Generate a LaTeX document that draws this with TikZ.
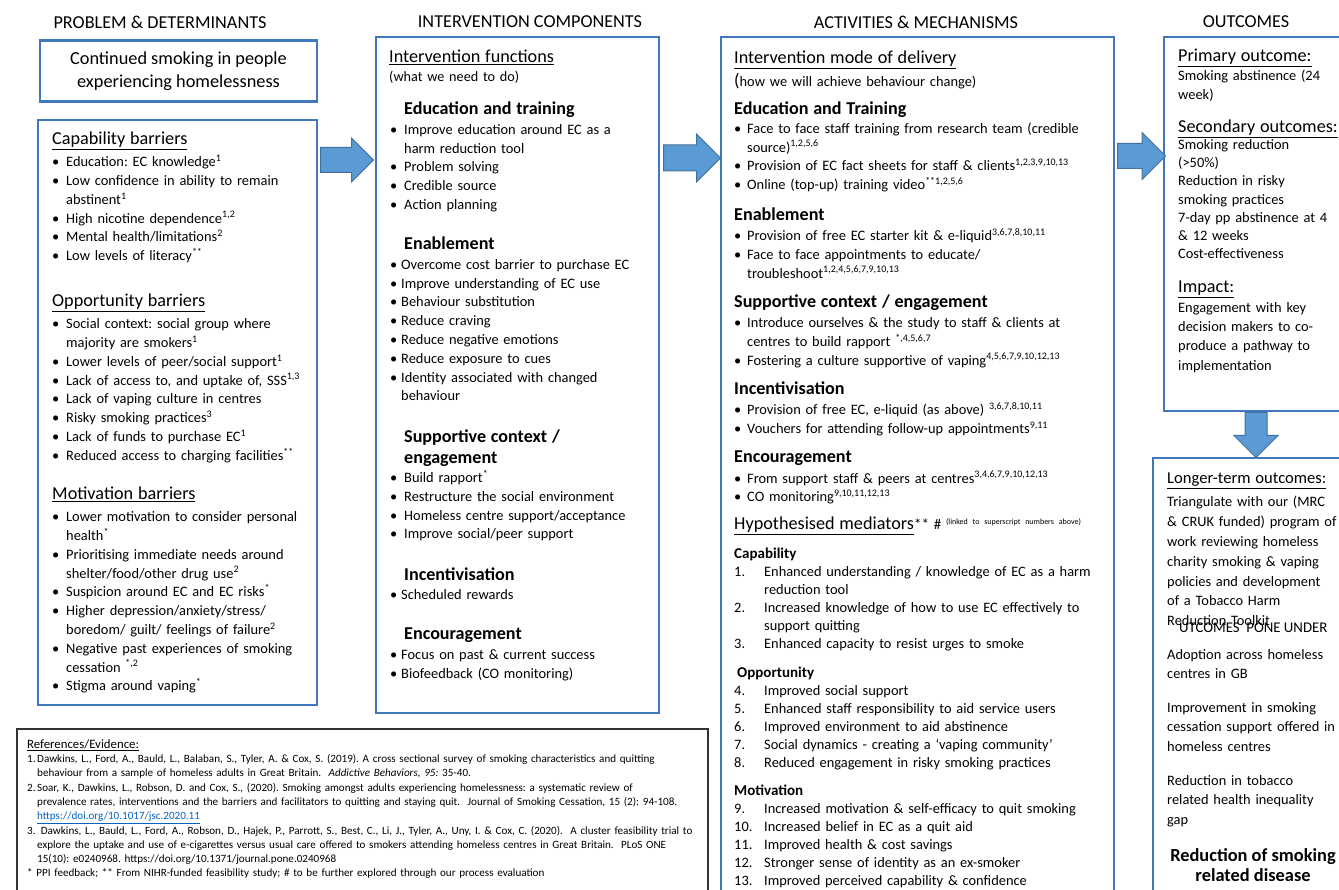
\documentclass[tikz,border=0pt]{standalone}
\usepackage{fontspec}
\setmainfont{Carlito}
\usetikzlibrary{shapes.arrows}

\definecolor{boxblue}{RGB}{65,119,190}
\definecolor{arrfill}{RGB}{91,155,213}
\definecolor{arrline}{RGB}{65,113,156}
\definecolor{linkblue}{RGB}{5,99,193}

\newcommand\fbody{\fontsize{14.4}{18.8}\selectfont}
\newcommand\fhead{\fontsize{18.2}{21}\selectfont}
\newcommand\fbold{\fontsize{18.1}{21.5}\selectfont\bfseries}
\newcommand\fcol{\fontsize{18.2}{20}\selectfont}
\newcommand\fref{\fontsize{11.1}{14.3}\selectfont}
\newcommand\fmed{\fontsize{14.4}{18.1}\selectfont}
\newcommand\sechd[1]{{\fhead\noindent\strut\underline{#1}\par}}
\newcommand\boldhd[1]{{\fbold\noindent\strut #1\par}}
\newcommand\bitem[2][14pt]{\par\hangindent=#1\hangafter=1\noindent\makebox[#1][l]{\textbullet}#2}
\newcommand\numitem[2]{\par\hangindent=30pt\hangafter=1\noindent\makebox[30pt][l]{#1.}#2}
\newcommand\refitem[2]{\par\hangindent=10pt\hangafter=1\noindent\makebox[10pt][l]{#1}#2}
\newcommand\sups[1]{\textsuperscript{#1}}
\setlength\lineskiplimit{-20pt}
\frenchspacing

\begin{document}
\begin{tikzpicture}[x=1pt, y=-1pt,
    bbox/.style={draw=boxblue, line width=2.5pt, inner sep=0pt},
    txt/.style={anchor=north west, inner sep=0pt, align=left, font=\fbody},
    barrow/.style={single arrow, draw=arrline, fill=arrfill, line width=1pt, inner sep=0pt,
      text depth=0pt, anchor=tail, single arrow tip angle=90, single arrow head extend=11pt},
    colhead/.style={font=\fcol, inner sep=0pt}]
    \path[use as bounding box] (0,0) rectangle (1339,890);
    \clip (0,0) rectangle (1339,890);

    % Column headings
    \node[colhead] (hprob) at (160,22) {PROBLEM \& DETERMINANTS};
    \node[colhead] (hcomp) at (530,22) {INTERVENTION COMPONENTS};
    \node[colhead] (hact) at (916,22) {ACTIVITIES \& MECHANISMS};
    \node[colhead] (hout) at (1246,22) {OUTCOMES};

    % Boxes
    \node[bbox, minimum width=277pt, minimum height=61pt, align=center,
      font=\fontsize{18.3}{23}\selectfont] (problem) at (178.5,71)
      {Continued smoking in people\\experiencing homelessness};
    \node[bbox, minimum width=279pt, minimum height=585pt] (barriers) at (177.5,412.5) {};
    \node[bbox, minimum width=283pt, minimum height=676pt] (components) at (517.5,375) {};
    \node[bbox, minimum width=393pt, minimum height=863pt] (activities) at (917.5,468.5) {};
    \node[bbox, minimum width=181pt, minimum height=374pt] (outcomes) at (1254.5,224) {};
    \node[bbox, minimum width=192pt, minimum height=442pt] (longterm) at (1249,679) {};
    \node[draw=black!80, line width=1.2pt, inner sep=0pt, minimum width=691pt,
      minimum height=171pt] (refs) at (362.5,814.5) {};

    % Block arrows
    \node[barrow, text height=24pt, single arrow head extend=9.5pt, minimum height=53pt] (arrA) at (320,160) {};
    \node[barrow, text height=25pt, minimum height=57pt] (arrB) at (663,158) {};
    \node[barrow, text height=24pt, minimum height=48pt] (arrC) at (1117,156) {};
    \node[barrow, text width=21pt, shape border rotate=270, minimum height=45pt] (arrD) at (1256,412) {};

    % Problem & determinants
    \node[txt, text width=272pt] (capab) at (52,130) {\sechd{Capability barriers}\vspace{3pt}
      \bitem{Education: EC knowledge\sups{1}}
      \bitem{Low confidence in ability to remain\newline abstinent\sups{1}}
      \bitem{High nicotine dependence\sups{1,2}}
      \bitem{Mental health/limitations\sups{2}}
      \bitem{Low levels of literacy\sups{**}}\par};
    \node[txt, text width=272pt] (oppor) at (52,292) {\sechd{Opportunity barriers}\vspace{3pt}
      \bitem{Social context: social group where\newline majority are smokers\sups{1}}
      \bitem{Lower levels of peer/social support\sups{1}}
      \bitem{Lack of access to, and uptake of, SSS\sups{1,3}}
      \bitem{Lack of vaping culture in centres}
      \bitem{Risky smoking practices\sups{3}}
      \bitem{Lack of funds to purchase EC\sups{1}}
      \bitem{Reduced access to charging facilities\sups{**}}\par};
    \node[txt, text width=272pt] (motiv) at (52,485) {\sechd{Motivation barriers}\vspace{3pt}
      \bitem{Lower motivation to consider personal\newline health\sups{*}}
      \bitem{Prioritising immediate needs around\newline shelter/food/other drug use\sups{2}}
      \bitem{Suspicion around EC and EC risks\sups{*}}
      \bitem{Higher depression/anxiety/stress/\newline boredom/ guilt/ feelings of failure\sups{2}}
      \bitem{Negative past experiences of smoking\newline cessation \sups{*,2}}
      \bitem{Stigma around vaping\sups{*}}\par};

    % Intervention components
    \node[txt, text width=268pt] (funcs) at (389,48) {\sechd{Intervention functions}
      {\fontsize{14.2}{18.8}\selectfont\noindent (what we need to do)\par}};
    \node[txt, text width=268pt] (edu) at (390,99) {\boldhd{\hspace{14pt}Education and training}\vspace{1.3pt}
      \bitem{Improve education around EC as a\newline harm reduction tool}
      \bitem{Problem solving}
      \bitem{Credible source}
      \bitem{Action planning}\par};
    \node[txt, text width=268pt] (enab) at (390,234) {\boldhd{\hspace{14pt}Enablement}\vspace{1.3pt}
      \bitem[11pt]{Overcome cost barrier to purchase EC}
      \bitem[11pt]{Improve understanding of EC use}
      \bitem[11pt]{Behaviour substitution}
      \bitem[11pt]{Reduce craving}
      \bitem[11pt]{Reduce negative emotions}
      \bitem[11pt]{Reduce exposure to cues}
      \bitem[11pt]{Identity associated with changed\newline behaviour}\par};
    \node[txt, text width=268pt] (supp) at (390,427) {\boldhd{\hspace{14pt}Supportive context /\newline\hspace*{14pt}engagement}
      \bitem{Build rapport\sups{*}}
      \bitem{Restructure the social environment}
      \bitem{Homeless centre support/acceptance}
      \bitem{Improve social/peer support}\par};
    \node[txt, text width=268pt] (incent) at (390,565) {\boldhd{\hspace{14pt}Incentivisation}\vspace{0.3pt}
      \bitem[11pt]{Scheduled rewards}\par};
    \node[txt, text width=268pt] (encour) at (390,624) {\boldhd{\hspace{14pt}Encouragement}\vspace{1.3pt}
      \bitem[11pt]{Focus on past \& current success}
      \bitem[11pt]{Biofeedback (CO monitoring)}\par};

    % Activities & mechanisms
    \node[txt, text width=380pt] (mode) at (734,49) {\sechd{Intervention mode of delivery}\vspace{2pt}
      \noindent{\fontsize{18}{21}\selectfont(}how we will achieve behaviour change)\par};
    \node[txt, text width=380pt] (edtr) at (734,99) {\boldhd{Education and Training}\vspace{0.3pt}
      \bitem[13pt]{Face to face staff training from research team (credible\newline source)\sups{1,2,5,6}}
      \bitem[13pt]{Provision of EC fact sheets for staff \& clients\sups{1,2,3,9,10,13}}
      \bitem[13pt]{Online (top-up) training video\sups{**1,2,5,6}}\par};
    \node[txt, text width=380pt] (enabl) at (734,205) {\boldhd{Enablement}\vspace{1.5pt}
      \bitem[13pt]{Provision of free EC starter kit \& e-liquid\sups{3,6,7,8,10,11}}
      \bitem[13pt]{Face to face appointments to educate/\newline troubleshoot\sups{1,2,4,5,6,7,9,10,13}}\par};
    \node[txt, text width=380pt] (suppo) at (734,292) {\boldhd{Supportive context / engagement}\vspace{1.5pt}
      \bitem[13pt]{Introduce ourselves \& the study to staff \& clients at\newline centres to build rapport \sups{*,4,5,6,7}}
      \bitem[13pt]{Fostering a culture supportive of vaping\sups{4,5,6,7,9,10,12,13}}\par};
    \node[txt, text width=380pt] (incen) at (734,379) {\boldhd{Incentivisation}\vspace{1.5pt}
      \bitem[13pt]{Provision of free EC, e-liquid (as above) \sups{3,6,7,8,10,11}}
      \bitem[13pt]{Vouchers for attending follow-up appointments\sups{9,11}}\par};
    \node[txt, text width=380pt] (encou) at (734,447) {\boldhd{Encouragement}\vspace{2pt}
      \bitem[13pt]{From support staff \& peers at centres\sups{3,4,6,7,9,10,12,13}}
      \bitem[13pt]{CO monitoring\sups{9,10,11,12,13}}\par};
    \node[txt, text width=380pt] (hyp) at (734,515) {\noindent{\fhead\strut\underline{Hypothesised mediators}}{\fontsize{15}{18}\selectfont** \#}
      \raisebox{5pt}{\fontsize{8}{9}\selectfont (linked to superscript numbers above)}\par};
    \node[txt, text width=380pt, font=\fmed] (medcap) at (734,545.5) {\noindent\strut{\fontsize{15}{18.1}\selectfont\bfseries Capability}
      \numitem{1}{Enhanced understanding / knowledge of EC as a harm\newline reduction tool}
      \numitem{2}{Increased knowledge of how to use EC effectively to\newline support quitting}
      \numitem{3}{Enhanced capacity to resist urges to smoke}\par};
    \node[txt, text width=380pt, font=\fmed] (medopp) at (734,664.5) {\noindent\strut\hspace{3pt}{\fontsize{15}{18.1}\selectfont\bfseries Opportunity}
      \numitem{4}{Improved social support}
      \numitem{5}{Enhanced staff responsibility to aid service users}
      \numitem{6}{Improved environment to aid abstinence}
      \numitem{7}{Social dynamics - creating a ‘vaping community’}
      \numitem{8}{Reduced engagement in risky smoking practices}\par};
    \node[txt, text width=380pt, font=\fmed] (medmot) at (734,782.5) {\noindent\strut{\fontsize{15}{18.1}\selectfont\bfseries Motivation}
      \numitem{9}{Increased motivation \& self-efficacy to quit smoking}
      \numitem{10}{Increased belief in EC as a quit aid}
      \numitem{11}{Improved health \& cost savings}
      \numitem{12}{Stronger sense of identity as an ex-smoker}
      \numitem{13}{Improved perceived capability \& confidence}\par};

    % Outcomes
    \node[txt, text width=175pt] (prim) at (1178,47) {\sechd{Primary outcome:}
      \noindent Smoking abstinence (24\\ week)\par};
    \node[txt, text width=175pt] (second) at (1178,118) {\sechd{Secondary outcomes:}\vspace{-1.5pt}
      {\fontsize{14.4}{18.2}\selectfont\noindent Smoking reduction\\ (>50\%)\\ Reduction in risky\\ smoking practices\\
      7-day pp abstinence at 4\\ \& 12 weeks\\ Cost-effectiveness\par}};
    \node[txt, text width=175pt] (impact) at (1178,278) {\sechd{Impact:}
      {\fontsize{14.4}{19.3}\selectfont\noindent Engagement with key\\ decision makers to co-\\ produce a pathway to\\ implementation\par}};

    % Longer-term outcomes
    \node[txt, text width=185pt, font=\fontsize{14.4}{19.8}\selectfont] (lthead) at (1167,470)
      {{\fontsize{16.6}{19}\selectfont\noindent\strut\underline{Longer-term outcomes:}\par}\vspace{3.6pt}
      \noindent Triangulate with our (MRC\\ \& CRUK funded) program of\\ work reviewing homeless\\
      charity smoking \& vaping\\ policies and development\\ of a Tobacco Harm\\ Reduction Toolkit\par};
    \node[txt, anchor=west, font=\fontsize{14.8}{18}\selectfont] (garble) at (1179,628) {UTCOMES\ \ PONE UNDER};
    \node[txt, text width=185pt, font=\fontsize{14.4}{19.8}\selectfont] (adopt) at (1167,645)
      {\noindent\strut Adoption across homeless\\ centres in GB\par};
    \node[txt, text width=185pt, font=\fontsize{14.4}{19.8}\selectfont] (improve) at (1167,698)
      {\noindent\strut Improvement in smoking\\ cessation support offered in\\ homeless centres\par};
    \node[txt, text width=185pt, font=\fontsize{14.4}{19.8}\selectfont] (ineq) at (1167,771)
      {\noindent\strut Reduction in tobacco\\ related health inequality\\ gap\par};
    \node[inner sep=0pt, align=center, font=\fontsize{18.4}{20}\selectfont\bfseries] (disease) at (1253,865)
      {Reduction of smoking\\ related disease};

    % References
    \node[txt, text width=685pt, font=\fref] (evidence) at (27,738)
      {\noindent\strut{\fontsize{12.8}{14.3}\selectfont\underline{References/Evidence:}}
      \refitem{1.}{Dawkins, L., Ford, A., Bauld, L., Balaban, S., Tyler, A. \& Cox, S. (2019). A cross sectional survey of smoking characteristics and quitting\newline behaviour from a sample of homeless adults in Great Britain.\ \ \textit{Addictive Behaviors, 95:} 35-40.}
      \refitem{2.}{Soar, K., Dawkins, L., Robson, D. and Cox, S., (2020). Smoking amongst adults experiencing homelessness: a systematic review of\newline prevalence rates, interventions and the barriers and facilitators to quitting and staying quit.\ \ Journal of Smoking Cessation, 15 (2): 94-108.\newline \textcolor{linkblue}{\underline{https://doi.org/10.1017/jsc.2020.11}}}
      \refitem{3.}{\ Dawkins, L., Bauld, L., Ford, A., Robson, D., Hajek, P., Parrott, S., Best, C., Li, J., Tyler, A., Uny, I. \& Cox, C. (2020).\ \ A cluster feasibility trial to\newline explore the uptake and use of e-cigarettes versus usual care offered to smokers attending homeless centres in Great Britain.\ \ PLoS ONE\newline 15(10): e0240968. https://doi.org/10.1371/journal.pone.0240968}
      \par\noindent * PPI feedback; ** From NIHR-funded feasibility study; \# to be further explored through our process evaluation\par};
\end{tikzpicture}
\end{document}
